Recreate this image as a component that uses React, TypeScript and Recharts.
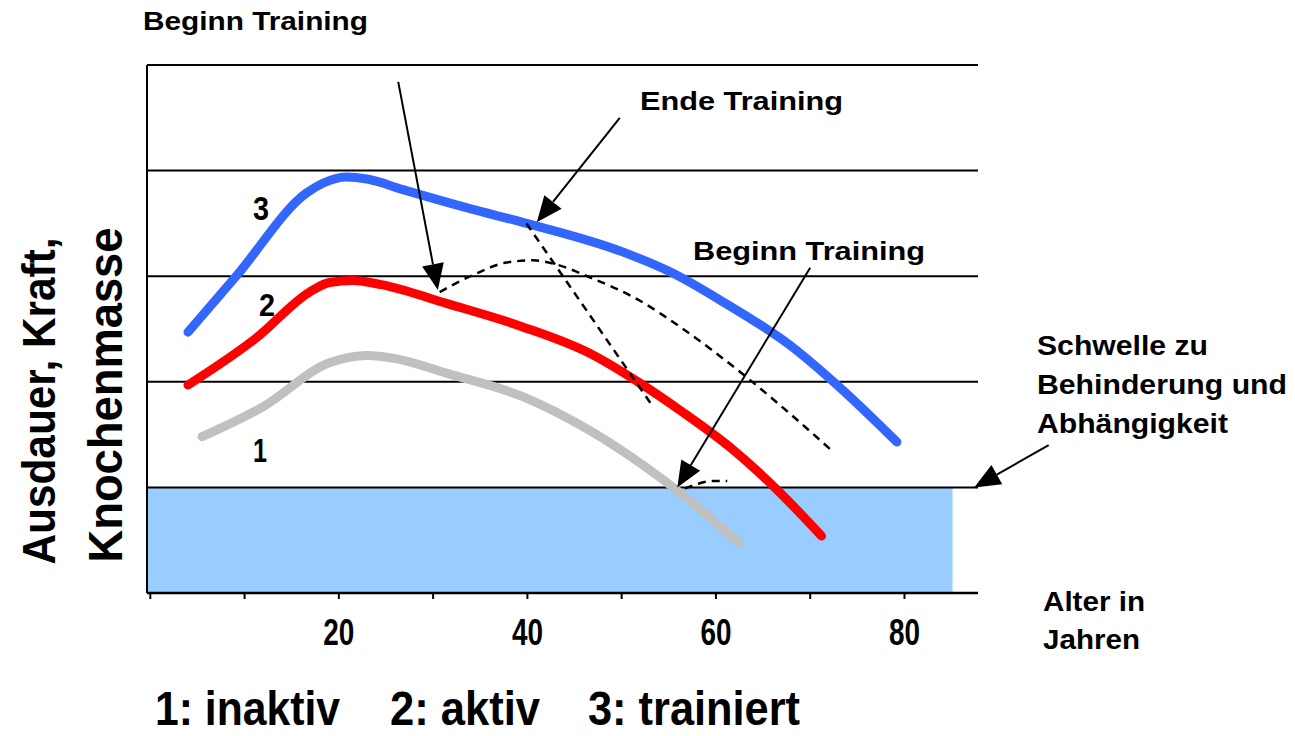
import React from 'react';
import { LineChart, Line, XAxis, YAxis, ReferenceLine, ReferenceArea } from 'recharts';

// Alter (x) und Niveau (y) je Kurve
const inaktivAge = [5.5, 11.9, 19.0, 23.0, 26.0, 31.5, 39.5, 46.6, 52.6, 56.2, 62.5];
const inaktivValue = [1.48, 1.76, 2.18, 2.25, 2.22, 2.08, 1.86, 1.54, 1.19, 0.95, 0.47];

const aktivAge = [4.0, 11.3, 16.9, 19.0, 21.5, 24.5, 31.5, 39.5, 46.6, 51.9, 56.2, 61.5, 66.8, 71.2];
const aktivValue = [1.97, 2.42, 2.85, 2.94, 2.96, 2.92, 2.74, 2.52, 2.27, 1.99, 1.73, 1.38, 0.95, 0.54];

const trainiertAge = [4.0, 9.2, 16.6, 18.3, 20.8, 23.0, 26.8, 33.9, 39.5, 50.1, 55.4, 60.7, 68.1, 73.1, 79.2];
const trainiertValue = [2.47, 3.01, 3.79, 3.88, 3.94, 3.92, 3.82, 3.64, 3.51, 3.23, 3.03, 2.76, 2.33, 1.95, 1.43];

// gestrichelte Verläufe
const beginnAktivAge = [30.7, 34.2, 37.8, 40.6, 43.1, 46.6, 51.9, 56.2, 63.3, 68.6, 72.4];
const beginnAktivValue = [2.85, 3.01, 3.13, 3.15, 3.11, 2.99, 2.77, 2.52, 2.04, 1.64, 1.34];

const endeTrainingAge = [39.9, 53.2];
const endeTrainingValue = [3.5, 1.78];

const beginnInaktivAge = [56.7, 58.3, 59.7, 61.2];
const beginnInaktivValue = [0.99, 1.04, 1.06, 1.06];

const xTicks = [0, 10, 20, 30, 40, 50, 60, 70, 80];
const labeledTicks = [20, 40, 60, 80];
const gridLevels = [1, 2, 3, 4, 5];
const thresholdLevel = 1;

// Pfeile: [vonAlter, vonNiveau, bisAlter, bisNiveau]
const arrows = [
  [26.3, 4.84, 30.5, 2.87],
  [49.8, 4.5, 41.0, 3.51],
  [70.0, 3.08, 55.9, 1.0],
  [95.3, 1.4, 87.4, 1.0],
];

const toPoints = (ages: number[], vals: number[]) => ages.map((a, i) => ({ age: a, value: vals[i] }));

const FONT = "'Liberation Sans', Arial, sans-serif";
const NARROW = "'Liberation Sans Narrow', 'Arial Narrow', 'Liberation Sans', sans-serif";

const ArrowShape = (props: any) => {
  const { x1, y1, x2, y2 } = props;
  const dx = x2 - x1;
  const dy = y2 - y1;
  const len = Math.sqrt(dx * dx + dy * dy) || 1;
  const ux = dx / len;
  const uy = dy / len;
  const head = 26;
  const half = 11;
  const bx = x2 - ux * head;
  const by = y2 - uy * head;
  const pts = `${x2},${y2} ${bx - uy * half},${by + ux * half} ${bx + uy * half},${by - ux * half}`;
  return (
    <g>
      <line x1={x1} y1={y1} x2={bx} y2={by} stroke="#000" strokeWidth={2} />
      <polygon points={pts} fill="#000" />
    </g>
  );
};

const XTick = (props: any) => {
  const { x, y, payload } = props;
  if (!labeledTicks.includes(payload.value)) return null;
  return (
    <text
      x={x}
      y={y}
      dy="0.71em"
      textAnchor="middle"
      fontSize={36}
      fontWeight="bold"
      fontFamily={NARROW}
      fill="#000"
      textLength={31}
      lengthAdjust="spacingAndGlyphs"
    >
      {payload.value}
    </text>
  );
};

const dashProps = {
  stroke: '#000',
  strokeWidth: 2.5,
  strokeDasharray: '8 6',
  dot: false,
  isAnimationActive: false,
  type: 'monotone' as const,
};

export default function App() {
  return (
    <div style={{ position: 'absolute', left: 0, top: 0, width: 1295, height: 736, background: '#fff', overflow: 'hidden' }}>
      <LineChart width={1295} height={736} margin={{ top: 65, right: 317, bottom: 103, left: 147 }}>
        <XAxis
          type="number"
          dataKey="age"
          domain={[-0.35, 87.8]}
          ticks={xTicks}
          height={40}
          axisLine={{ stroke: '#000', strokeWidth: 2.5 }}
          tickLine={{ stroke: '#000', strokeWidth: 2 }}
          tickSize={6}
          tickMargin={20}
          tick={<XTick />}
        />
        <YAxis type="number" domain={[0, 5]} hide />
        <ReferenceArea x1={-0.35} x2={85.1} y1={0} y2={thresholdLevel} fill="#99ccff" fillOpacity={1} stroke="none" />
        {gridLevels.map((g) => (
          <ReferenceLine key={g} y={g} stroke="#000" strokeWidth={2} />
        ))}
        <ReferenceLine x={-0.35} stroke="#000" strokeWidth={2} />
        <Line data={toPoints(inaktivAge, inaktivValue)} dataKey="value" type="monotone" stroke="#c0c0c0" strokeWidth={9} strokeLinecap="round" dot={false} isAnimationActive={false} />
        <Line data={toPoints(aktivAge, aktivValue)} dataKey="value" type="monotone" stroke="#ff0000" strokeWidth={9} strokeLinecap="round" dot={false} isAnimationActive={false} />
        <Line data={toPoints(trainiertAge, trainiertValue)} dataKey="value" type="monotone" stroke="#3366ff" strokeWidth={9} strokeLinecap="round" dot={false} isAnimationActive={false} />
        <Line data={toPoints(beginnAktivAge, beginnAktivValue)} dataKey="value" {...dashProps} />
        <Line data={toPoints(endeTrainingAge, endeTrainingValue)} dataKey="value" {...dashProps} type="linear" />
        <Line data={toPoints(beginnInaktivAge, beginnInaktivValue)} dataKey="value" {...dashProps} />
        {arrows.map((a, i) => (
          <ReferenceLine
            key={'arrow' + i}
            segment={[{ x: a[0], y: a[1] }, { x: a[2], y: a[3] }]}
            ifOverflow="visible"
            shape={ArrowShape}
          />
        ))}
      </LineChart>
      <svg width={1295} height={736} style={{ position: 'absolute', left: 0, top: 0, pointerEvents: 'none' }}>
        <g fontFamily={FONT} fontWeight="bold" fill="#000">
          <text x={143} y={30} fontSize={25} textLength={225} lengthAdjust="spacingAndGlyphs">Beginn Training</text>
          <text x={640} y={110} fontSize={25} textLength={203} lengthAdjust="spacingAndGlyphs">Ende Training</text>
          <text x={693} y={260} fontSize={25} textLength={232} lengthAdjust="spacingAndGlyphs">Beginn Training</text>
          <text x={1037} y={355} fontSize={27} textLength={171} lengthAdjust="spacingAndGlyphs">Schwelle zu</text>
          <text x={1037} y={394} fontSize={27} textLength={250} lengthAdjust="spacingAndGlyphs">Behinderung und</text>
          <text x={1037} y={433} fontSize={27} textLength={191} lengthAdjust="spacingAndGlyphs">Abhängigkeit</text>
          <text x={1043} y={611} fontSize={27} textLength={102} lengthAdjust="spacingAndGlyphs">Alter in</text>
          <text x={1043} y={649} fontSize={27} textLength={97} lengthAdjust="spacingAndGlyphs">Jahren</text>
          <text transform="translate(55,401) rotate(-90)" textAnchor="middle" fontSize={46} textLength={327} lengthAdjust="spacingAndGlyphs">Ausdauer, Kraft,</text>
          <text transform="translate(122,395) rotate(-90)" textAnchor="middle" fontSize={48} textLength={335} lengthAdjust="spacingAndGlyphs">Knochenmasse</text>
        </g>
        <g fontFamily={NARROW} fontWeight="bold" fill="#000">
          <text x={253} y={220} fontSize={34} textLength={16} lengthAdjust="spacingAndGlyphs">3</text>
          <text x={259} y={316} fontSize={32} textLength={16} lengthAdjust="spacingAndGlyphs">2</text>
          <text x={253} y={462} fontSize={34} textLength={14} lengthAdjust="spacingAndGlyphs">1</text>
          <text x={155} y={725} fontSize={48} textLength={185} lengthAdjust="spacingAndGlyphs">1: inaktiv</text>
          <text x={390} y={725} fontSize={48} textLength={150} lengthAdjust="spacingAndGlyphs">2: aktiv</text>
          <text x={588} y={725} fontSize={48} textLength={212} lengthAdjust="spacingAndGlyphs">3: trainiert</text>
        </g>
      </svg>
    </div>
  );
}
